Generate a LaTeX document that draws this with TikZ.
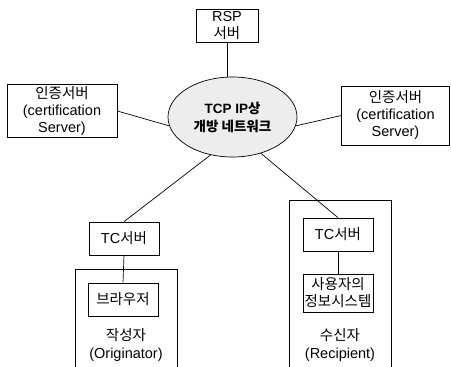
\documentclass[tikz,border=0pt]{standalone}
\usepackage{fontspec}
\setmainfont{Liberation Sans}
\newfontfamily\kr{Noto Sans CJK KR}
\usetikzlibrary{shapes.geometric}
\tikzset{
  box/.style={draw, line width=0.7pt, inner sep=0pt, align=center, font=\fontsize{14.5}{17}\selectfont},
  net/.style={draw, ellipse, line width=0.7pt, fill=gray!14, inner sep=0pt, align=center, font=\fontsize{13.5}{18}\selectfont\bfseries},
  lbl/.style={align=center, font=\fontsize{14.5}{18}\selectfont},
  wire/.style={line width=0.7pt},
  frame/.style={line width=0.6pt}
}
\begin{document}
\begin{tikzpicture}[x=1pt,y=-1pt]
\useasboundingbox (0,0) rectangle (451,367);
\node[net, minimum width=129pt, minimum height=80pt] (net) at (232.5,117) {TCP IP{\kr 상}\\{\kr 개방 네트워크}};
\node[box, minimum width=62pt, minimum height=33pt] (rsp) at (227,25.5) {RSP\\{\kr 서버}};
\node[box, minimum width=110pt, minimum height=53pt] (certL) at (62,111) {{\kr 인증서버}\\(certification\\Server)};
\node[box, minimum width=108pt, minimum height=59pt] (certR) at (395.5,115.5) {{\kr 인증서버}\\(certification\\Server)};
\node[box, minimum width=70pt, minimum height=33pt] (tcL) at (124,238.5) {TC{\kr 서버}};
\node[box, minimum width=70pt, minimum height=33pt] (browser) at (123,299.5) {{\kr 브라우저}};
\node[box, minimum width=70pt, minimum height=33pt] (tcR) at (338,234.5) {TC{\kr 서버}};
\node[box, minimum width=70pt, minimum height=38pt] (info) at (338,293) {{\kr 사용자의}\\{\kr 정보시스템}};
\node[lbl] (orig) at (126,345) {{\kr 작성자}\\(Originator)};
\node[lbl] (reci) at (340,345) {{\kr 수신자}\\(Recipient)};
\coordinate (oL1) at (75,370); \coordinate (oL2) at (75,269);
\coordinate (oL3) at (177,269); \coordinate (oL4) at (177,370);
\coordinate (oR1) at (289,370); \coordinate (oR2) at (289,200);
\coordinate (oR3) at (391,200); \coordinate (oR4) at (391,370);
\draw[frame] (oL1) -- (oL2) -- (oL3) -- (oL4);
\draw[frame] (oR1) -- (oR2) -- (oR3) -- (oR4);
\draw[wire] (rsp.south) -- (rsp.south |- net.north);
\draw[wire] (certL.east) -- (net.188);
\draw[wire] (net.-8) -- (certR.west);
\draw[wire] (net.240) -- (tcL.north);
\draw[wire] (net.-52) -- (tcR.north);
\draw[wire] (tcL.south) -- (browser.north);
\draw[wire] (tcR.south) -- (info.north);
\end{tikzpicture}
\end{document}
